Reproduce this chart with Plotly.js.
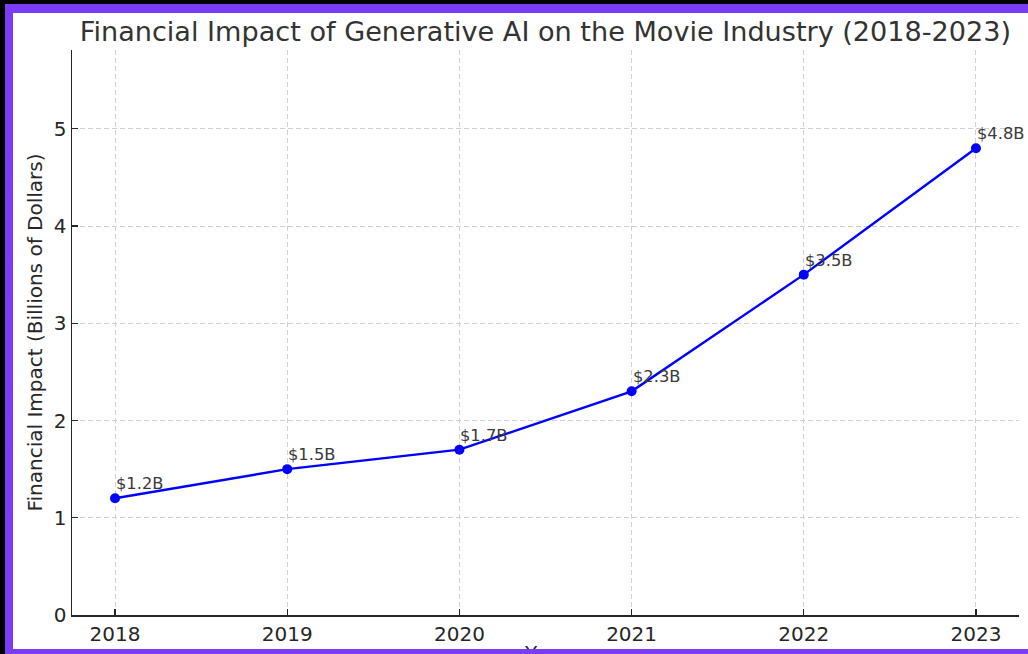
<!DOCTYPE html>
<html>
<head>
<meta charset="utf-8">
<script src="https://cdn.plot.ly/plotly-3.0.1.min.js"></script>
<style>
  html, body { margin: 0; padding: 0; background: #fff; }
  #wrap { position: relative; width: 1028px; height: 654px; overflow: hidden; }
  #chart { position: absolute; left: 0; top: 0; width: 1028px; height: 654px; }
  .bar { position: absolute; z-index: 10; }
</style>
</head>
<body>
<div id="wrap">
  <div id="chart"></div>
  <div class="bar" style="left:0;top:0;width:1028px;height:4px;background:#000;"></div>
  <div class="bar" style="left:0;top:4px;width:1028px;height:9px;background:#7b3cf5;"></div>
  <div class="bar" style="left:0;top:0;width:5px;height:654px;background:#000;"></div>
  <div class="bar" style="left:5px;top:4px;width:8px;height:650px;background:#7b3cf5;"></div>
  <div class="bar" style="left:5px;top:649px;width:1023px;height:5px;background:#7b3cf5;"></div>
</div>
<script>
const years = [2018, 2019, 2020, 2021, 2022, 2023];
const impact = [1.2, 1.5, 1.7, 2.3, 3.5, 4.8];
const labels = ["$1.2B", "$1.5B", "$1.7B", "$2.3B", "$3.5B", "$4.8B"];
const yTicks = [0, 1, 2, 3, 4, 5];

const font = "DejaVu Sans, sans-serif";

const trace = {
  x: years,
  y: impact,
  type: "scatter",
  mode: "lines+markers",
  line: { color: "#0000ff", width: 2.4 },
  marker: { color: "#0000ff", size: 10 },
  hoverinfo: "skip"
};

const annotations = years.map((yr, i) => ({
  x: yr, y: impact[i], xref: "x", yref: "y",
  text: labels[i], showarrow: false,
  xanchor: "left", yanchor: "bottom",
  xshift: -1, yshift: 3,
  font: { family: font, size: 16.3, color: "#3a3a3a" }
}));

annotations.push({
  x: 0.5, y: 0, xref: "paper", yref: "paper",
  text: "Year", showarrow: false,
  xanchor: "center", yanchor: "top",
  yshift: -24,
  font: { family: font, size: 20, color: "#262626" }
});

const layout = {
  width: 1028, height: 654,
  margin: { l: 72, r: 9, t: 50, b: 39, pad: 0 },
  paper_bgcolor: "#ffffff",
  plot_bgcolor: "#ffffff",
  showlegend: false,
  title: {
    text: "Financial Impact of Generative AI on the Movie Industry (2018-2023)",
    font: { family: font, size: 27.1, color: "#333333" },
    x: 0.5, xref: "paper", xanchor: "center",
    y: 1 - 32 / 654, yref: "container", yanchor: "middle"
  },
  xaxis: {
    range: [2017.75, 2023.25],
    tickvals: years,
    ticktext: years.map(String),
    showline: true, linecolor: "#262626", linewidth: 1.5,
    ticks: "inside", ticklen: 6, tickwidth: 1.3, tickcolor: "#262626",
    showgrid: true, gridcolor: "#d0d0d0", gridwidth: 1, griddash: "5px,3px",
    zeroline: false,
    tickfont: { family: font, size: 20, color: "#262626" },
    automargin: false, fixedrange: true
  },
  yaxis: {
    range: [0, 5.81],
    tickvals: yTicks,
    ticktext: yTicks.map(String),
    showline: true, linecolor: "#262626", linewidth: 1.5,
    ticks: "inside", ticklen: 6, tickwidth: 1.3, tickcolor: "#262626",
    showgrid: true, gridcolor: "#d0d0d0", gridwidth: 1, griddash: "5px,3px",
    zeroline: false,
    tickfont: { family: font, size: 20, color: "#262626" },
    title: { text: "Financial Impact (Billions of Dollars)", font: { family: font, size: 20, color: "#262626" }, standoff: 6 },
    automargin: false, fixedrange: true
  },
  annotations: annotations
};

Plotly.newPlot("chart", [trace], layout, { displayModeBar: false, staticPlot: true });
</script>
</body>
</html>
